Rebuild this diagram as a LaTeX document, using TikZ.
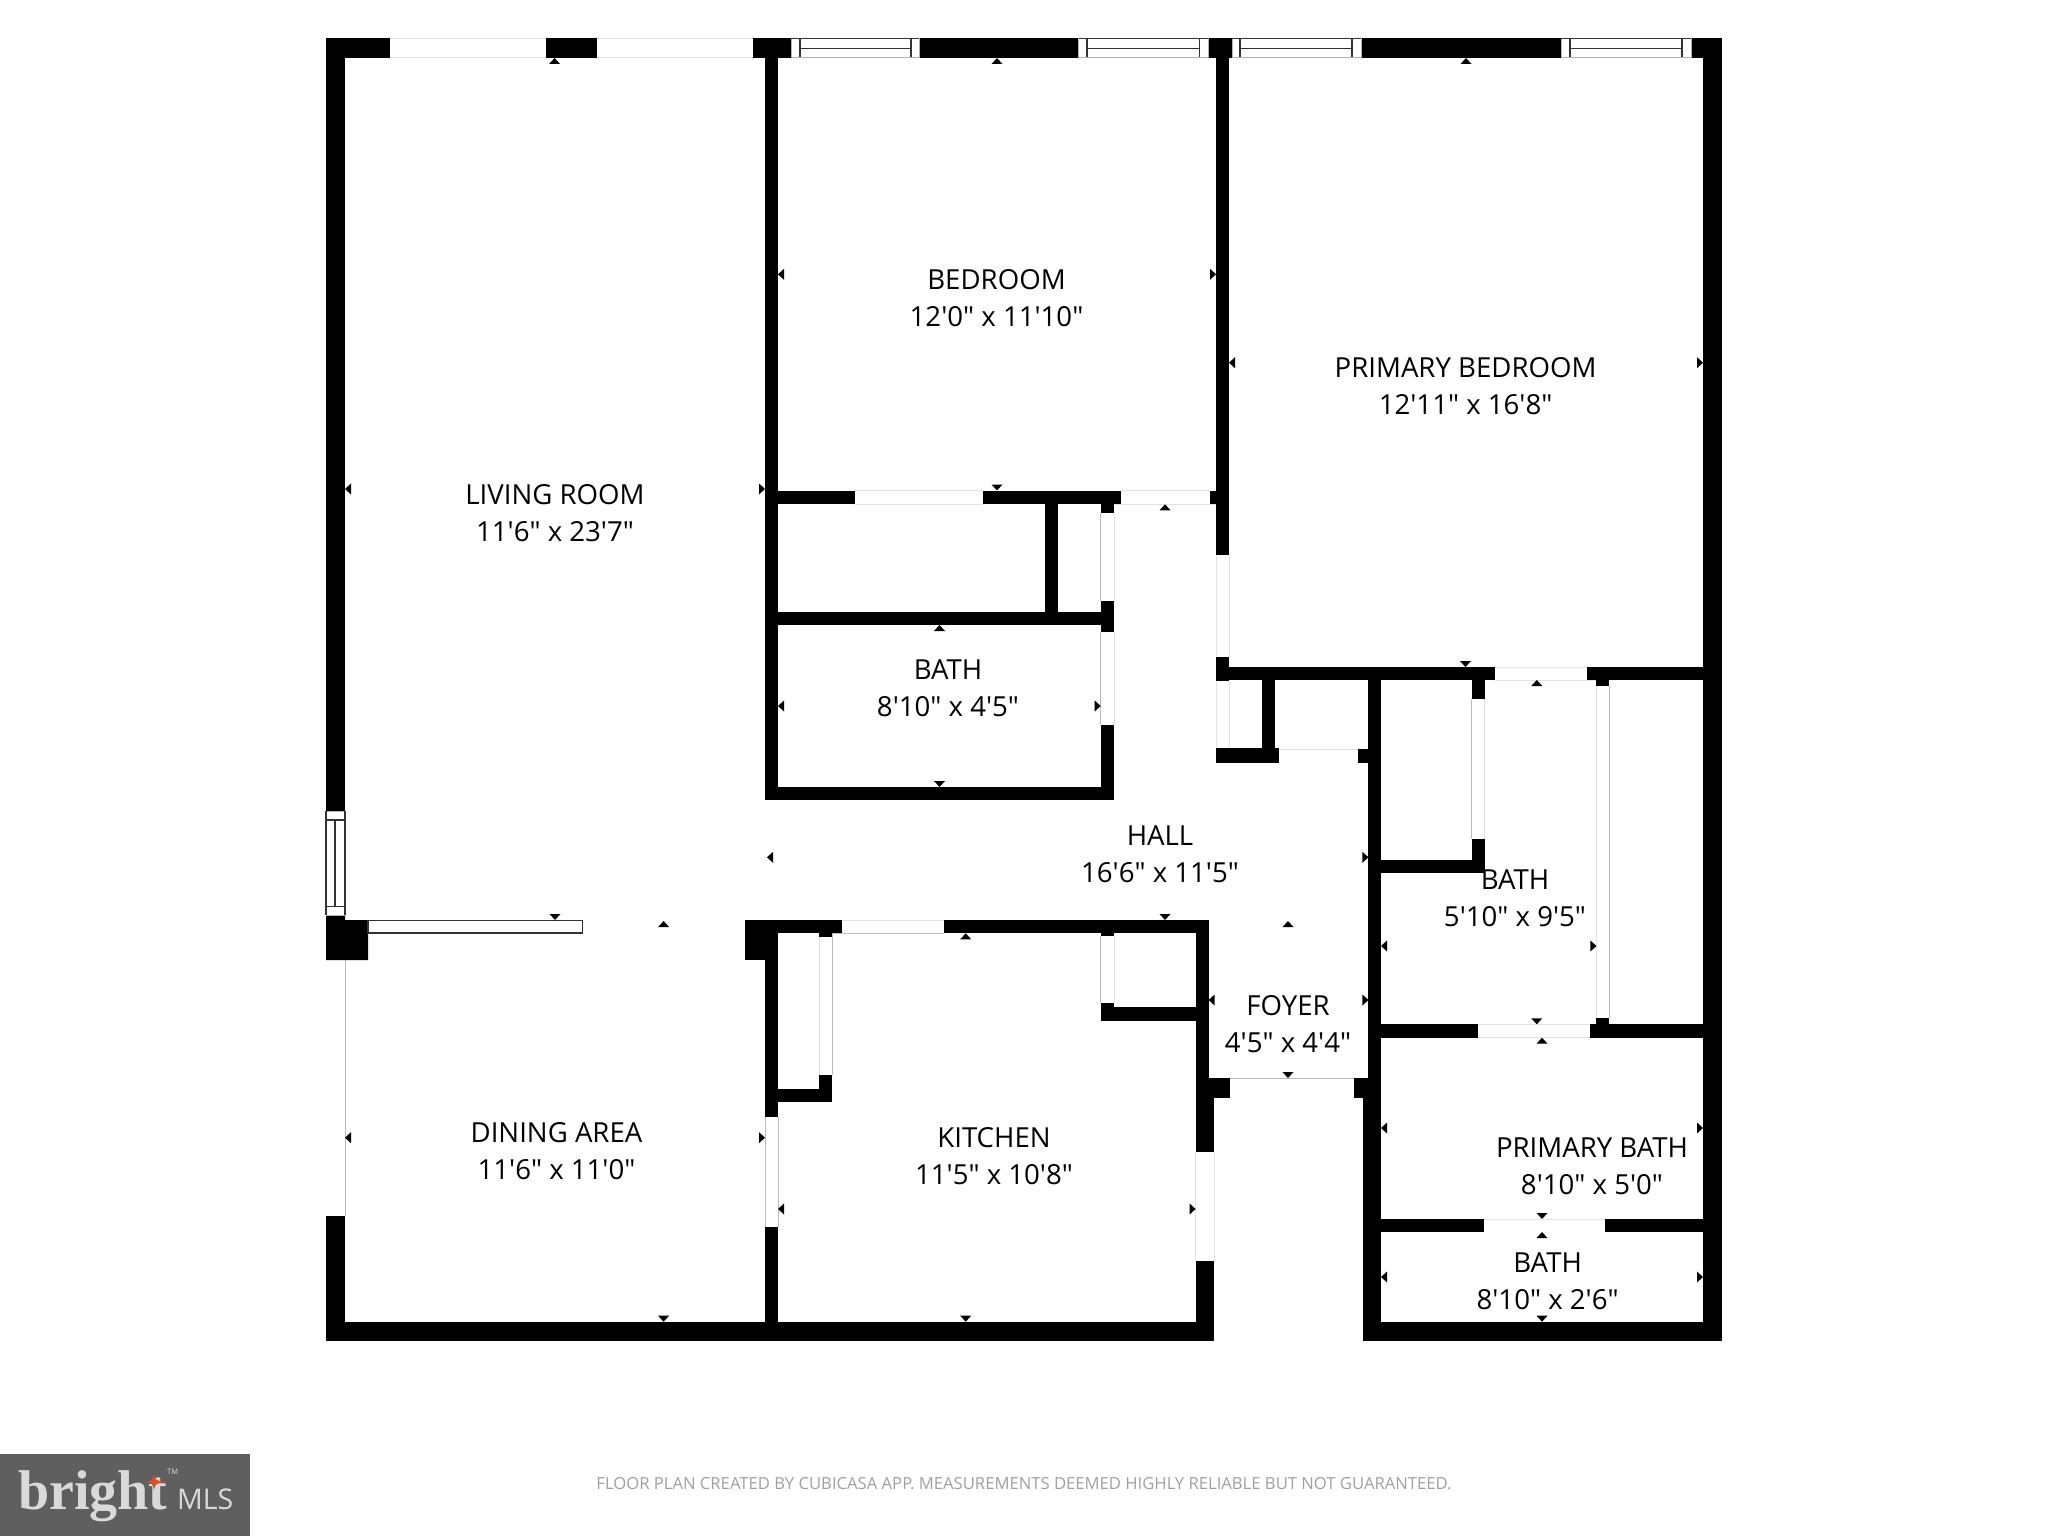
\documentclass[tikz,border=0pt]{standalone}
\usepackage{fontspec}
\newfontfamily\osans{Open Sans}
\newfontfamily\lserif{Liberation Serif}
\definecolor{openg}{HTML}{E2E2E2}
\definecolor{opend}{HTML}{BBBBBB}
\definecolor{winl}{HTML}{333333}
\definecolor{logobg}{HTML}{5F5F5F}
\definecolor{logotx}{HTML}{D9D9D9}
\definecolor{logost}{HTML}{D4512B}
\definecolor{foot}{HTML}{A0A0A0}
\newcommand{\wallrect}[4]{\fill[wallfill] (#1,#2) rectangle (#3,#4);}
\newcommand{\opn}[4]{\draw[openline] (#1,#2) -- (#3,#4);}
\newcommand{\opd}[4]{\draw[opendark] (#1,#2) -- (#3,#4);}
\newcommand{\tipU}[2]{\fill[wallfill] (#1,#2) -- ++(-5.5,6) -- ++(11,0) -- cycle;}
\newcommand{\tipD}[2]{\fill[wallfill] (#1,#2) -- ++(-5.5,-6) -- ++(11,0) -- cycle;}
\newcommand{\tipL}[2]{\fill[wallfill] (#1,#2) -- ++(6,-5.5) -- ++(0,11) -- cycle;}
\newcommand{\tipR}[2]{\fill[wallfill] (#1,#2) -- ++(-6,-5.5) -- ++(0,11) -- cycle;}
\newcommand{\topwin}[4]{%
  \fill[white] (#1,38.5) rectangle (#4,57.5);
  \draw[winthin] (#1,38.5) rectangle (#4,57.5);
  \draw[winline] (#2,38.5) -- (#2,57) (#3,38.5) -- (#3,57) (#2,48.3) -- (#3,48.3) (#1,38.5) -- (#4,38.5);}
\begin{document}
\begin{tikzpicture}[x=1pt,y=-1pt,
  wallfill/.style={fill=black},
  openline/.style={draw=openg,line width=1pt},
  opendark/.style={draw=opend,line width=1pt},
  winline/.style={draw=winl,line width=1.1pt},
  winthin/.style={draw=gray!60,line width=.7pt},
  roomlabel/.style={font=\osans\fontsize{27.6}{37.5}\selectfont,align=center,inner sep=0pt,text=black}]
\useasboundingbox (0,0) rectangle (2048,1536);
\fill[white] (0,0) rectangle (2048,1536);

% thin lines of openings
\opn{389.5}{38.5}{753}{38.5} \opn{389.5}{58}{753}{58}
\opn{855}{490.5}{983}{490.5} \opn{855}{504}{983}{504}
\opn{1121}{490.5}{1210}{490.5} \opn{1114}{504}{1216}{504}
\opd{1100.7}{513}{1100.7}{601} \opn{1114}{513}{1114}{601}
\opd{1100.7}{632}{1100.7}{725} \opn{1114}{632}{1114}{725}
\opn{1216}{555}{1216}{657} \opn{1229}{555}{1229}{657}
\opn{1216}{681}{1216}{748} \opn{1229}{681}{1229}{748}
\opn{1275}{749}{1358}{749}
\opn{1495}{667}{1587}{667} \opn{1495}{680}{1596}{680}
\opd{1471.7}{699}{1471.7}{839} \opn{1484.8}{699}{1484.8}{839}
\opn{1596.4}{686}{1596.4}{1018} \opd{1609.4}{686}{1609.4}{1018}
\opn{1478}{1024.3}{1596}{1024.3} \opn{1478}{1037.7}{1590}{1037.7}
\opn{1484}{1219}{1605}{1219}
\opd{345}{960}{345}{1216}
\opd{765}{1117}{765}{1227} \opd{778}{1117}{778}{1227}
\opn{819}{937}{819}{1075} \opd{832.4}{933.5}{832.4}{1075}
\opd{832}{933.5}{944}{933.5} \opn{841.6}{920}{944}{920}
\opd{1100.5}{936}{1100.5}{1003} \opn{1114}{936}{1114}{1003}
\opn{1195.6}{1152}{1195.6}{1261} \opn{1214}{1152}{1214}{1261}
\opd{1208.6}{1078}{1367.5}{1078}

% perimeter and top wall
\wallrect{326}{38}{345}{811}
\wallrect{326}{38}{389.5}{58}
\wallrect{546}{38}{596.6}{58}
\wallrect{753}{38}{1722}{58}
\wallrect{1703}{38}{1722}{1341}
\wallrect{326}{1216}{345}{1341}
\wallrect{326}{1321.7}{1214}{1341}
\wallrect{1362.6}{1321.7}{1722}{1341}

% living / bedroom partition
\wallrect{765}{38}{778}{800}
\wallrect{1216}{38}{1229}{555}
% bedroom lower wall
\wallrect{765}{490.5}{855}{504}
\wallrect{983}{490.5}{1121}{504}
\wallrect{1210}{490.5}{1216}{504}
\wallrect{1045}{504}{1058}{612}
\wallrect{1100.7}{504}{1114}{513}
\wallrect{1100.7}{601}{1114}{632}
\wallrect{778}{612}{1114}{625}
\wallrect{1100.7}{725}{1114}{800}
\wallrect{765}{787}{1114}{800}

% primary bedroom lower wall and closets
\wallrect{1216}{657}{1229}{681}
\wallrect{1216}{667}{1495}{680}
\wallrect{1587}{667}{1703}{680}
\wallrect{1262}{680}{1275}{749}
\wallrect{1216}{748}{1278.5}{763}
\wallrect{1358}{749}{1381}{763}
\wallrect{1368.4}{667}{1381}{1097.7}
\wallrect{1362.6}{1097.7}{1381}{1341}
\wallrect{1354}{1078}{1381}{1097.7}
\wallrect{1471.7}{680}{1484.8}{699.3}
\wallrect{1471.7}{838.7}{1484.8}{873}
\wallrect{1381}{860}{1484.8}{873}
\wallrect{1596.4}{680}{1609.4}{686}
\wallrect{1596.4}{1017.7}{1609.4}{1037}
\wallrect{1381}{1024.3}{1478}{1037.7}
\wallrect{1590}{1024.3}{1703}{1037.7}
\wallrect{1381}{1219}{1484}{1232}
\wallrect{1605}{1219}{1703}{1232}

% west block, slider and pillar
\fill[wallfill] (326,915) -- (345,915) -- (345,920) -- (368,920) -- (368,960) -- (326,960) -- cycle;
\draw[winline,fill=white,line width=1.4pt] (368,920.7) rectangle (582.5,932.8);
\fill[white] (326,811) rectangle (345,915);
\draw[winthin] (326,811) rectangle (345,915);
\draw[winline] (326,820) -- (345,820) (326,906.7) -- (345,906.7) (335,820) -- (335,906.7) (326,811) -- (326,915) (345,811) -- (345,915);

% kitchen
\wallrect{745}{920}{841.6}{933.3}
\wallrect{745}{920}{765}{960}
\wallrect{765}{920}{778}{1117}
\wallrect{765}{1227}{778}{1330}
\wallrect{819}{933}{832}{936.7}
\wallrect{819}{1075}{832}{1102}
\wallrect{778}{1089}{832}{1102}
\wallrect{944}{920}{1208.6}{933.3}
\wallrect{1195.6}{920}{1208.6}{1078}
\wallrect{1195.6}{1078}{1214}{1152}
\wallrect{1195.6}{1078}{1230}{1097.7}
\wallrect{1195.6}{1261}{1214}{1341}
\wallrect{1100.5}{933}{1114}{936}
\wallrect{1100.5}{1003}{1114}{1021}
\wallrect{1100.5}{1007}{1196}{1021}

% windows
\topwin{791}{800}{911}{919.4}
\topwin{1078.5}{1087}{1199.7}{1208}
\topwin{1232}{1240}{1352}{1361}
\topwin{1561}{1570}{1682}{1691}

% dimension tips
\tipU{554.6}{58} \tipU{997}{58} \tipU{1466}{58}
\tipL{345}{489} \tipR{765}{489}
\tipL{778}{274.3} \tipR{1216}{274.3} \tipD{997}{490.5}
\tipL{1229}{362.7} \tipR{1703}{362.7} \tipD{1465.5}{667}
\tipU{1165}{504.3} \tipU{939.5}{625} \tipL{778}{706} \tipR{1100.7}{706} \tipD{939.5}{787}
\tipL{767}{857.3} \tipR{1368.4}{857.3} \tipD{1165}{920}
\tipU{1288}{921} \tipL{1208.6}{1000} \tipR{1368.4}{1000} \tipD{1288}{1078}
\tipU{965.7}{933.3} \tipL{778}{1209} \tipR{1195.6}{1209} \tipD{965.7}{1321.7}
\tipD{555}{920} \tipU{663.6}{921} \tipL{345}{1137.7} \tipR{765}{1137.7} \tipD{663.6}{1321.7}
\tipU{1536.8}{680} \tipL{1381}{946} \tipR{1596.4}{946} \tipD{1536.8}{1024.3}
\tipU{1542}{1037.7} \tipL{1381}{1128} \tipR{1703}{1128} \tipD{1542}{1219}
\tipU{1542}{1232} \tipL{1381}{1277} \tipR{1703}{1277} \tipD{1542}{1321.7}

% room labels
\node[roomlabel] (living) at (555,513) {LIVING ROOM\\11'6" x 23'7"};
\node[roomlabel] (bed) at (996.5,298) {BEDROOM\\12'0" x 11'10"};
\node[roomlabel] (pbed) at (1465.6,386.3) {PRIMARY BEDROOM\\12'11" x 16'8"};
\node[roomlabel] (bath1) at (948,688.4) {BATH\\8'10" x 4'5"};
\node[roomlabel] (hall) at (1160,854.4) {HALL\\16'6" x 11'5"};
\node[roomlabel] (bath2) at (1515,898) {BATH\\5'10" x 9'5"};
\node[roomlabel] (foyer) at (1288,1024) {FOYER\\4'5" x 4'4"};
\node[roomlabel] (dining) at (556.5,1151) {DINING AREA\\11'6" x 11'0"};
\node[roomlabel] (kitchen) at (994,1156) {KITCHEN\\11'5" x 10'8"};
\node[roomlabel] (pbath) at (1592,1166.4) {PRIMARY BATH\\8'10" x 5'0"};
\node[roomlabel] (bath3) at (1547.6,1281) {BATH\\8'10" x 2'6"};

% footer
\node[font=\osans\fontsize{16.65}{20}\selectfont,text=foot,inner sep=0pt] (footer) at (1024,1484) {FLOOR PLAN CREATED BY CUBICASA APP. MEASUREMENTS DEEMED HIGHLY RELIABLE BUT NOT GUARANTEED.};

% logo
\fill[logobg] (0,1454) rectangle (250,1536);
\node[font=\lserif\bfseries\fontsize{56}{56}\selectfont,text=logotx,inner sep=0pt,anchor=base west] (brightword) at (18,1509) {bright};
\fill[logost] (145,1482) .. controls (152,1481) and (153,1480) .. (154,1474) .. controls (155,1480) and (156,1481) .. (167,1482) .. controls (156,1483) and (155,1484) .. (154,1490) .. controls (153,1484) and (152,1483) .. (145,1482) -- cycle;
\node[font=\osans\fontsize{7.5}{8}\selectfont,text=logotx,inner sep=0pt,anchor=base west] (tm) at (167,1474) {TM};
\node[font=\osans\fontsize{28.5}{28.5}\selectfont,text=logotx,inner sep=0pt,anchor=base west] (mls) at (177,1509) {MLS};
\end{tikzpicture}
\end{document}
